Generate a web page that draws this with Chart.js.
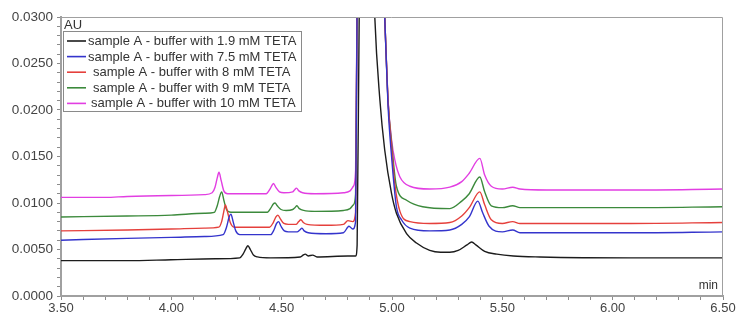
<!DOCTYPE html>
<html>
<head>
<meta charset="utf-8">
<script src="https://cdn.jsdelivr.net/npm/chart.js@4"></script>
<style>
  body { margin: 0; background: #fff; }
</style>
</head>
<body>
<canvas id="chromatogram" width="750" height="323"></canvas>
<script>
// retention time (min) and absorbance (AU) for each run
const t19 = [3.50, 3.80, 4.00, 4.20, 4.31, 4.325, 4.338, 4.347, 4.358, 4.372, 4.39, 4.45, 4.585, 4.597, 4.607, 4.62, 4.641, 4.66, 4.80, 4.835, 4.842, 4.852, 4.885, 4.91, 4.922, 4.945, 4.967, 4.998, 5.02, 5.066, 5.111, 5.171, 5.22, 5.262, 5.30, 5.34, 5.361, 5.38, 5.42, 5.475, 5.55, 5.67, 6.08, 6.50];
const v19 = [0.0038, 0.0038, 0.0039, 0.0040, 0.0041, 0.0045, 0.0051, 0.0054, 0.0050, 0.0044, 0.0042, 0.0041, 0.0042, 0.0044, 0.0045, 0.0043, 0.0044, 0.0042, 0.0043, 0.0043, 0.0055, 0.032, 0.060, 0.040, 0.030, 0.0211, 0.0157, 0.0110, 0.0089, 0.0067, 0.0057, 0.0049, 0.0047, 0.0047, 0.0049, 0.0055, 0.0058, 0.0055, 0.0048, 0.0045, 0.0043, 0.0042, 0.0041, 0.0041];

const t75 = [3.50, 3.80, 4.00, 4.15, 4.235, 4.25, 4.262, 4.27, 4.28, 4.292, 4.31, 4.45, 4.465, 4.477, 4.486, 4.497, 4.512, 4.53, 4.57, 4.582, 4.592, 4.602, 4.62, 4.70, 4.78, 4.805, 4.822, 4.835, 4.842, 4.905, 4.967, 4.982, 4.998, 5.02, 5.043, 5.081, 5.171, 5.262, 5.316, 5.35, 5.389, 5.41, 5.44, 5.50, 5.547, 5.58, 5.70, 6.08, 6.50];
const v75 = [0.0060, 0.0062, 0.0063, 0.0064, 0.0066, 0.0074, 0.0085, 0.0088, 0.0080, 0.0070, 0.0066, 0.0066, 0.0071, 0.0078, 0.0080, 0.0075, 0.0070, 0.0069, 0.0069, 0.0071, 0.0073, 0.0070, 0.0068, 0.0067, 0.0068, 0.0075, 0.0072, 0.0080, 0.032, 0.065, 0.030, 0.0205, 0.0150, 0.0096, 0.0082, 0.0073, 0.0070, 0.0071, 0.0077, 0.0085, 0.0102, 0.0090, 0.0075, 0.0069, 0.0071, 0.0068, 0.0068, 0.0068, 0.0069];

const t8 = [3.50, 3.80, 4.00, 4.15, 4.215, 4.228, 4.237, 4.245, 4.255, 4.267, 4.285, 4.445, 4.462, 4.474, 4.483, 4.494, 4.51, 4.53, 4.565, 4.577, 4.587, 4.598, 4.615, 4.70, 4.78, 4.80, 4.822, 4.835, 4.842, 4.905, 4.967, 4.982, 4.998, 5.013, 5.036, 5.081, 5.171, 5.262, 5.316, 5.35, 5.398, 5.42, 5.45, 5.50, 5.547, 5.58, 5.70, 6.08, 6.50];
const v8 = [0.0070, 0.0071, 0.0072, 0.0073, 0.0074, 0.0080, 0.0090, 0.0098, 0.0090, 0.0079, 0.0074, 0.0074, 0.0079, 0.0085, 0.0087, 0.0083, 0.0078, 0.0077, 0.0077, 0.0080, 0.0082, 0.0079, 0.0077, 0.0076, 0.0077, 0.0081, 0.0080, 0.0090, 0.032, 0.065, 0.030, 0.021, 0.0160, 0.0120, 0.0091, 0.0080, 0.0078, 0.0079, 0.0086, 0.0095, 0.0112, 0.0098, 0.0082, 0.0078, 0.0080, 0.0078, 0.0078, 0.0078, 0.0079];

const t9 = [3.50, 3.80, 4.00, 4.15, 4.195, 4.208, 4.219, 4.228, 4.238, 4.25, 4.27, 4.435, 4.452, 4.462, 4.47, 4.48, 4.497, 4.52, 4.55, 4.56, 4.569, 4.58, 4.60, 4.65, 4.78, 4.81, 4.825, 4.835, 4.842, 4.905, 4.967, 4.982, 4.998, 5.02, 5.066, 5.139, 5.262, 5.316, 5.35, 5.398, 5.42, 5.45, 5.50, 5.547, 5.58, 5.70, 6.08, 6.50];
const v9 = [0.0085, 0.0086, 0.0087, 0.0089, 0.0090, 0.0097, 0.0107, 0.0112, 0.0103, 0.0093, 0.0090, 0.0090, 0.0095, 0.0099, 0.0100, 0.0097, 0.0093, 0.0092, 0.0093, 0.0095, 0.0097, 0.0094, 0.0092, 0.0091, 0.0092, 0.0094, 0.0098, 0.0110, 0.032, 0.065, 0.030, 0.021, 0.0165, 0.0118, 0.0103, 0.0096, 0.0094, 0.0102, 0.0110, 0.0128, 0.0112, 0.0097, 0.0095, 0.0097, 0.0095, 0.0095, 0.0095, 0.0096];

const t10 = [3.50, 3.70, 3.80, 4.00, 4.15, 4.185, 4.198, 4.208, 4.216, 4.226, 4.238, 4.255, 4.43, 4.447, 4.456, 4.463, 4.473, 4.49, 4.51, 4.55, 4.558, 4.567, 4.578, 4.595, 4.65, 4.78, 4.81, 4.825, 4.835, 4.842, 4.905, 4.967, 4.982, 4.998, 5.013, 5.036, 5.081, 5.171, 5.262, 5.316, 5.35, 5.398, 5.42, 5.45, 5.50, 5.547, 5.58, 5.70, 6.08, 6.50];
const v10 = [0.0106, 0.0106, 0.0107, 0.0108, 0.0109, 0.0111, 0.0117, 0.0127, 0.0133, 0.0124, 0.0113, 0.0110, 0.0110, 0.0115, 0.0119, 0.0121, 0.0117, 0.0112, 0.0111, 0.0112, 0.0114, 0.0116, 0.0113, 0.0111, 0.0110, 0.0111, 0.0113, 0.0118, 0.0135, 0.032, 0.065, 0.030, 0.0211, 0.0168, 0.0146, 0.0128, 0.0118, 0.0115, 0.0117, 0.0123, 0.0132, 0.0148, 0.0130, 0.0118, 0.0115, 0.0117, 0.0115, 0.0114, 0.0114, 0.0115];

const seriesLabels = [
  'sample A - buffer with 1.9 mM TETA',
  'sample A - buffer with 7.5 mM TETA',
  'sample A - buffer with 8 mM TETA',
  'sample A - buffer with 9 mM TETA',
  'sample A - buffer with 10 mM TETA'
];
const seriesTimes = [t19, t75, t8, t9, t10];
const seriesValues = [v19, v75, v8, v9, v10];
const seriesColors = ['#1c1c1c', '#3434cc', '#e5403c', '#3c8a3c', '#e23ee2'];

const FONT = "'Liberation Sans', Arial, sans-serif";

const datasets = seriesLabels.map((label, i) => ({
  label: label,
  data: seriesTimes[i].map((x, j) => ({ x: x, y: seriesValues[i][j] })),
  borderColor: seriesColors[i],
  borderWidth: 1.4,
  pointRadius: 0,
  fill: false,
  cubicInterpolationMode: 'monotone',
  clip: 0
}));

// draw the other frame sides, the legend box and the axis captions
const framePlugin = {
  id: 'framePlugin',
  afterDraw(chart) {
    const { ctx, chartArea: a } = chart;
    ctx.save();
    ctx.strokeStyle = '#a0a0a0';
    ctx.lineWidth = 1;
    ctx.beginPath();
    ctx.moveTo(a.left, a.top + 0.5);
    ctx.lineTo(a.right - 0.5, a.top + 0.5);
    ctx.lineTo(a.right - 0.5, a.bottom);
    ctx.stroke();

    ctx.fillStyle = '#333';
    ctx.font = '13px ' + FONT;
    ctx.textBaseline = 'alphabetic';
    ctx.textAlign = 'left';
    ctx.fillText('AU', a.left + 3, a.top + 12);
    ctx.font = '12px ' + FONT;
    ctx.textAlign = 'right';
    ctx.fillText('min', a.right - 5, a.bottom - 7);

    // legend
    const box = { x: 63.5, y: 31.5, w: 238, h: 80 };
    ctx.fillStyle = '#fff';
    ctx.fillRect(box.x, box.y, box.w, box.h);
    ctx.strokeStyle = '#8a8a8a';
    ctx.strokeRect(box.x, box.y, box.w, box.h);
    const textX = [88, 88, 93, 93, 91];
    ctx.font = '13px ' + FONT;
    ctx.textAlign = 'left';
    ctx.textBaseline = 'middle';
    seriesLabels.forEach((label, i) => {
      const y = 41 + i * 15.6;
      ctx.strokeStyle = seriesColors[i];
      ctx.lineWidth = 1.6;
      ctx.beginPath();
      ctx.moveTo(67, y);
      ctx.lineTo(86, y);
      ctx.stroke();
      ctx.fillStyle = '#333';
      ctx.fillText(label, textX[i], y + 0.5);
    });
    ctx.restore();
  }
};

function isStep(value, step) {
  const r = value / step;
  return Math.abs(r - Math.round(r)) < 1e-6;
}

const ctx = document.getElementById('chromatogram').getContext('2d');
new Chart(ctx, {
  type: 'line',
  data: { datasets: datasets },
  options: {
    responsive: false,
    animation: false,
    layout: { padding: { top: 17, right: 27, left: 0, bottom: 0 } },
    plugins: {
      legend: { display: false },
      tooltip: { enabled: false }
    },
    scales: {
      x: {
        type: 'linear',
        min: 3.5,
        max: 6.5,
        afterFit: scale => { scale.height = 27; },
        grid: { display: true, drawOnChartArea: false, drawTicks: true, tickLength: 4, color: '#8c8c8c' },
        border: { display: true, color: '#a0a0a0', width: 2 },
        ticks: {
          stepSize: 0.1,
          autoSkip: false,
          maxRotation: 0,
          minRotation: 0,
          padding: 1,
          color: '#444',
          font: { family: FONT, size: 13 },
          callback: value => isStep(value, 0.5) ? value.toFixed(2) : ''
        }
      },
      y: {
        min: 0,
        max: 0.03,
        afterFit: scale => { scale.width = 61; },
        grid: { display: true, drawOnChartArea: false, drawTicks: true, tickLength: 4, color: '#8c8c8c' },
        border: { display: true, color: '#a0a0a0', width: 2 },
        ticks: {
          stepSize: 0.001,
          autoSkip: false,
          padding: 4,
          color: '#444',
          font: { family: FONT, size: 13.5 },
          callback: value => isStep(value, 0.005) ? value.toFixed(4) : ''
        }
      }
    }
  },
  plugins: [framePlugin]
});
</script>
</body>
</html>
